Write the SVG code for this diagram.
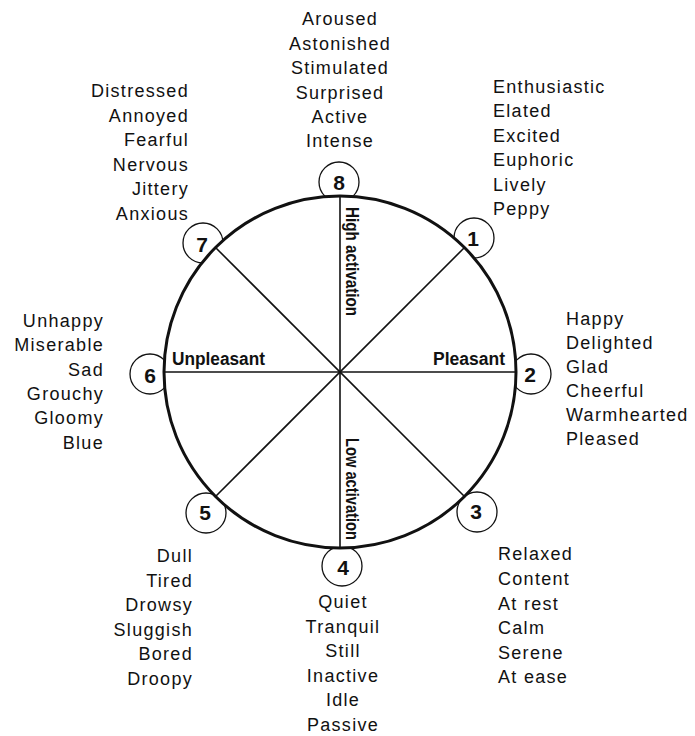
<svg xmlns="http://www.w3.org/2000/svg" width="695" height="736" viewBox="0 0 695 736">
<style>
.w{font-family:"Liberation Sans",Arial,sans-serif;font-size:18px;letter-spacing:1.3px;fill:#111}
.m{text-anchor:middle}.e{text-anchor:end}
.b{font-family:"Liberation Sans",Arial,sans-serif;font-weight:bold;font-size:18px;fill:#111}
.d{font-family:"Liberation Sans",Arial,sans-serif;font-weight:bold;font-size:21px;fill:#111;text-anchor:middle}
.sc{fill:#fff;stroke:#111;stroke-width:1.3}
.ax{stroke:#111;stroke-width:1.6;fill:none}
</style>
<rect width="695" height="736" fill="#fff"/>
<g id="badges">
<circle class="sc" cx="339" cy="182" r="20"/>
<circle class="sc" cx="474" cy="238" r="20"/>
<circle class="sc" cx="531" cy="374" r="20"/>
<circle class="sc" cx="477" cy="512" r="20"/>
<circle class="sc" cx="342" cy="566" r="20"/>
<circle class="sc" cx="206" cy="513" r="20"/>
<circle class="sc" cx="150" cy="374" r="20"/>
<circle class="sc" cx="203" cy="243" r="20"/>
</g>
<g id="wheel">
<circle cx="340" cy="372" r="176" fill="#fff" stroke="#111" stroke-width="3"/>
</g>
<g id="connectors">
<line class="ax" x1="340" y1="196" x2="340" y2="548"/>
<line class="ax" x1="164" y1="372" x2="516" y2="372"/>
<line class="ax" x1="215.5" y1="247.5" x2="464.5" y2="496.5"/>
<line class="ax" x1="464.5" y1="247.5" x2="215.5" y2="496.5"/>
</g>
<g id="axis-labels">
<text class="b" x="172" y="365" textLength="93" lengthAdjust="spacingAndGlyphs">Unpleasant</text>
<text class="b" x="433" y="365" textLength="72" lengthAdjust="spacingAndGlyphs">Pleasant</text>
<text class="b" transform="translate(346,207) rotate(90)" textLength="109" lengthAdjust="spacingAndGlyphs">High activation</text>
<text class="b" transform="translate(346,438) rotate(90)" textLength="102" lengthAdjust="spacingAndGlyphs">Low activation</text>
</g>
<g id="n8">
<text class="d" x="339" y="190">8</text>
<text class="w m" x="340"><tspan x="340" y="25">Aroused</tspan><tspan x="340" y="49.5">Astonished</tspan><tspan x="340" y="74">Stimulated</tspan><tspan x="340" y="98.5">Surprised</tspan><tspan x="340" y="123">Active</tspan><tspan x="340" y="147">Intense</tspan></text>
</g>
<g id="n1">
<text class="d" x="473" y="246">1</text>
<text class="w"><tspan x="493" y="93">Enthusiastic</tspan><tspan x="493" y="117">Elated</tspan><tspan x="493" y="142">Excited</tspan><tspan x="493" y="166">Euphoric</tspan><tspan x="493" y="191">Lively</tspan><tspan x="493" y="215">Peppy</tspan></text>
</g>
<g id="n2">
<text class="d" x="530" y="382">2</text>
<text class="w"><tspan x="566" y="325">Happy</tspan><tspan x="566" y="349">Delighted</tspan><tspan x="566" y="373">Glad</tspan><tspan x="566" y="397">Cheerful</tspan><tspan x="566" y="421">Warmhearted</tspan><tspan x="566" y="445">Pleased</tspan></text>
</g>
<g id="n3">
<text class="d" x="476" y="519">3</text>
<text class="w"><tspan x="498" y="560">Relaxed</tspan><tspan x="498" y="585">Content</tspan><tspan x="498" y="609.5">At rest</tspan><tspan x="498" y="634">Calm</tspan><tspan x="498" y="658.5">Serene</tspan><tspan x="498" y="683">At ease</tspan></text>
</g>
<g id="n4">
<text class="d" x="343" y="575">4</text>
<text class="w m"><tspan x="343" y="608">Quiet</tspan><tspan x="343" y="632.5">Tranquil</tspan><tspan x="343" y="657">Still</tspan><tspan x="343" y="681.5">Inactive</tspan><tspan x="343" y="706">Idle</tspan><tspan x="343" y="730.5">Passive</tspan></text>
</g>
<g id="n5">
<text class="d" x="205" y="520">5</text>
<text class="w e"><tspan x="193" y="562">Dull</tspan><tspan x="193" y="587">Tired</tspan><tspan x="193" y="611">Drowsy</tspan><tspan x="193" y="636">Sluggish</tspan><tspan x="193" y="660">Bored</tspan><tspan x="193" y="685">Droopy</tspan></text>
</g>
<g id="n6">
<text class="d" x="150" y="383">6</text>
<text class="w e"><tspan x="104" y="327">Unhappy</tspan><tspan x="104" y="351">Miserable</tspan><tspan x="104" y="375.5">Sad</tspan><tspan x="104" y="400">Grouchy</tspan><tspan x="104" y="424">Gloomy</tspan><tspan x="104" y="448.5">Blue</tspan></text>
</g>
<g id="n7">
<text class="d" x="202" y="252">7</text>
<text class="w e"><tspan x="189" y="97">Distressed</tspan><tspan x="189" y="121.5">Annoyed</tspan><tspan x="189" y="146">Fearful</tspan><tspan x="189" y="170.5">Nervous</tspan><tspan x="189" y="195">Jittery</tspan><tspan x="189" y="219.5">Anxious</tspan></text>
</g>
</svg>
